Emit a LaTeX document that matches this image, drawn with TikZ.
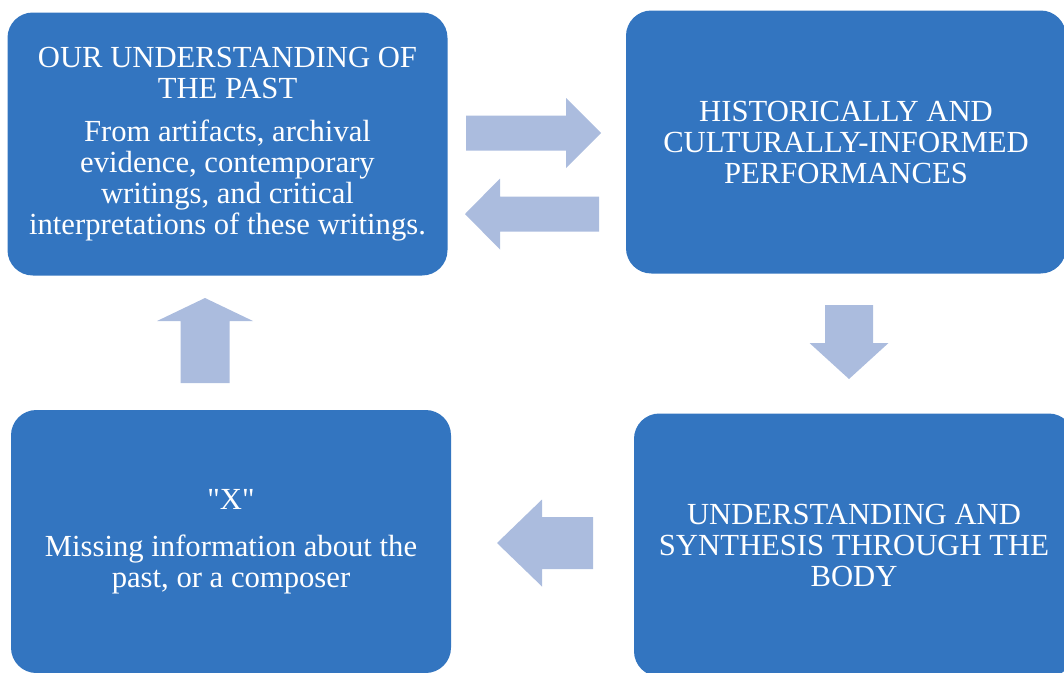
\documentclass[tikz,border=0pt]{standalone}
\usepackage{fontspec}
\setmainfont{Liberation Serif}
\newfontfamily\plainserif{Liberation Serif}
\usepackage{tikz}

\definecolor{stageblue}{RGB}{51,117,192}
\definecolor{flowgray}{RGB}{171,188,222}
\newcommand{\px}{0.75pt}

\tikzset{
    stage/.style={rectangle, rounded corners=19pt, fill=stageblue, text=white,
        align=center, minimum width=440*\px, minimum height=263*\px, inner sep=0pt,
        font=\fontsize{23}{23.25}\selectfont},
    % length / half shaft / half head / head length
    pics/flow/.style args={#1/#2/#3/#4}{code={
        \fill[flowgray] (0,-#2) -- (#1-#4,-#2) -- (#1-#4,-#3) -- (#1,0)
            -- (#1-#4,#3) -- (#1-#4,#2) -- (0,#2) -- cycle;}}}

\begin{document}
\begin{tikzpicture}[x=\px, y=-\px]

                    \clip (0,0) rectangle (1064,672);

                    \node[stage] (past) at (227.5,144) {OUR UNDERSTANDING OF\\THE PAST\\[9pt]From artifacts, archival\\evidence, contemporary\\writings, and critical\\interpretations of these writings.};
                    \node[stage] (perf) at (846,142) {HISTORICALLY AND\\CULTURALLY-INFORMED\\PERFORMANCES};
                    \node[stage] (body) at (854,545) {UNDERSTANDING AND\\SYNTHESIS THROUGH THE\\BODY};
                    \node[stage] (gap) at (231,541.5) {{\plainserif"X"}\\[12pt]Missing information about the\\past, or a composer};

                    \pic (toperf) at (466,133) {flow={135/17.5/35/35}};
                    \pic[rotate=180] (topast) at (599,214) {flow={134/17.5/35.5/35}};
                    \pic[rotate=-90] (tobody) at (849,305) {flow={74/24/39.5/36}};
                    \pic[rotate=180] (togap) at (593,543) {flow={96/26/43.5/45}};
                    \pic[rotate=90] (toback) at (205,383) {flow={85/24.5/48/23}};

\end{tikzpicture}
\end{document}
